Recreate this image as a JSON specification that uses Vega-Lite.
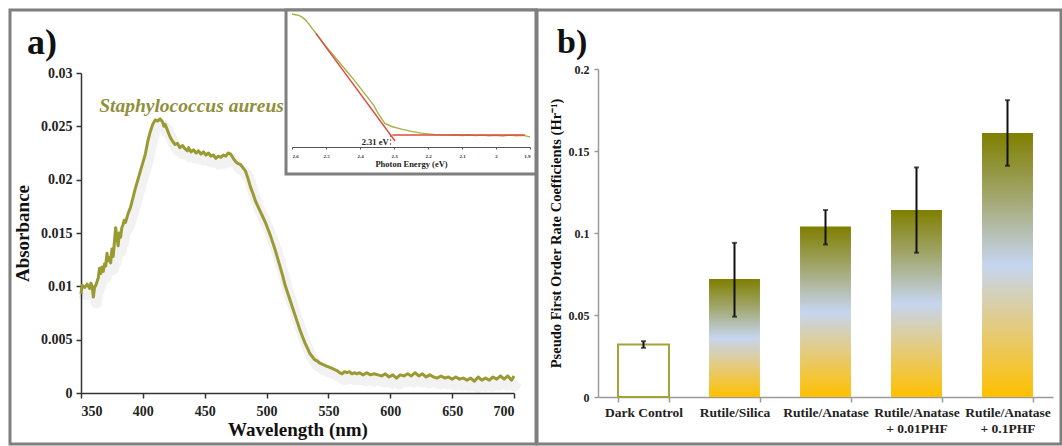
{
  "$schema": "https://vega.github.io/schema/vega-lite/v6.json",
  "background": "white",
  "padding": {"left": 8, "top": 8, "right": 0, "bottom": 0},
  "spacing": -3,
  "align": "none",
  "config": {
    "font": "Liberation Serif",
    "view": {"stroke": null},
    "axis": {"grid": false}
  },
  "datasets": {
    "spec": [
      {"wl":350,"a":0.0093},{"wl":351,"a":0.0101},{"wl":353,"a":0.0099},{"wl":355,"a":0.0102},{"wl":357,"a":0.0098},{"wl":358,"a":0.0103},{"wl":359,"a":0.0100},{"wl":360,"a":0.0090},{"wl":361,"a":0.0099},{"wl":362,"a":0.0101},{"wl":364,"a":0.0108},{"wl":365,"a":0.0117},{"wl":366,"a":0.0112},{"wl":367,"a":0.0118},{"wl":368,"a":0.0114},{"wl":369,"a":0.0121},{"wl":370,"a":0.0119},{"wl":371,"a":0.0131},{"wl":372,"a":0.0124},{"wl":373,"a":0.0127},{"wl":374,"a":0.0122},{"wl":375,"a":0.0135},{"wl":376,"a":0.0128},{"wl":377,"a":0.0141},{"wl":378,"a":0.0155},{"wl":379,"a":0.0147},{"wl":380,"a":0.0138},{"wl":381,"a":0.0150},{"wl":382,"a":0.0146},{"wl":383,"a":0.0155},{"wl":384,"a":0.0158},{"wl":385,"a":0.0162},{"wl":386,"a":0.0160},{"wl":388,"a":0.0168},{"wl":390,"a":0.0174},{"wl":392,"a":0.0183},{"wl":394,"a":0.0192},{"wl":396,"a":0.0200},{"wl":398,"a":0.0208},{"wl":400,"a":0.0216},{"wl":402,"a":0.0224},{"wl":404,"a":0.0236},{"wl":406,"a":0.0245},{"wl":408,"a":0.0252},{"wl":410,"a":0.0256},{"wl":412,"a":0.0255},{"wl":414,"a":0.0257},{"wl":416,"a":0.0254},{"wl":417,"a":0.0250},{"wl":418,"a":0.0252},{"wl":420,"a":0.0246},{"wl":422,"a":0.0240},{"wl":424,"a":0.0236},{"wl":426,"a":0.0233},{"wl":428,"a":0.0234},{"wl":430,"a":0.0230},{"wl":432,"a":0.0232},{"wl":434,"a":0.0229},{"wl":436,"a":0.0227},{"wl":437,"a":0.0230},{"wl":439,"a":0.0226},{"wl":441,"a":0.0228},{"wl":443,"a":0.0225},{"wl":445,"a":0.0227},{"wl":447,"a":0.0224},{"wl":449,"a":0.0226},{"wl":451,"a":0.0223},{"wl":453,"a":0.0225},{"wl":455,"a":0.0222},{"wl":457,"a":0.0223},{"wl":459,"a":0.0220},{"wl":461,"a":0.0222},{"wl":463,"a":0.0221},{"wl":465,"a":0.0223},{"wl":467,"a":0.0222},{"wl":469,"a":0.0225},{"wl":471,"a":0.0224},{"wl":473,"a":0.0220},{"wl":475,"a":0.0217},{"wl":477,"a":0.0215},{"wl":479,"a":0.0214},{"wl":481,"a":0.0211},{"wl":483,"a":0.0208},{"wl":485,"a":0.0201},{"wl":487,"a":0.0193},{"wl":489,"a":0.0187},{"wl":491,"a":0.0180},{"wl":493,"a":0.0175},{"wl":495,"a":0.0170},{"wl":497,"a":0.0165},{"wl":499,"a":0.0160},{"wl":501,"a":0.0154},{"wl":503,"a":0.0148},{"wl":505,"a":0.0141},{"wl":507,"a":0.0134},{"wl":509,"a":0.0126},{"wl":511,"a":0.0118},{"wl":513,"a":0.0110},{"wl":515,"a":0.0101},{"wl":517,"a":0.0094},{"wl":519,"a":0.0087},{"wl":521,"a":0.0080},{"wl":523,"a":0.0073},{"wl":525,"a":0.0066},{"wl":527,"a":0.0059},{"wl":529,"a":0.0053},{"wl":531,"a":0.0047},{"wl":533,"a":0.0042},{"wl":535,"a":0.0037},{"wl":537,"a":0.0034},{"wl":539,"a":0.0031},{"wl":541,"a":0.0030},{"wl":543,"a":0.0028},{"wl":545,"a":0.0027},{"wl":547,"a":0.0026},{"wl":549,"a":0.0025},{"wl":551,"a":0.0024},{"wl":553,"a":0.0023},{"wl":555,"a":0.0022},{"wl":557,"a":0.0021},{"wl":559,"a":0.0019},{"wl":561,"a":0.0018},{"wl":563,"a":0.0020},{"wl":565,"a":0.0019},{"wl":567,"a":0.0020},{"wl":569,"a":0.0018},{"wl":571,"a":0.0019},{"wl":573,"a":0.0018},{"wl":575,"a":0.0019},{"wl":578,"a":0.0017},{"wl":581,"a":0.0019},{"wl":584,"a":0.0017},{"wl":587,"a":0.0018},{"wl":590,"a":0.0017},{"wl":593,"a":0.0016},{"wl":596,"a":0.0018},{"wl":599,"a":0.0015},{"wl":602,"a":0.0017},{"wl":605,"a":0.0014},{"wl":608,"a":0.0017},{"wl":611,"a":0.0016},{"wl":614,"a":0.0018},{"wl":617,"a":0.0016},{"wl":620,"a":0.0019},{"wl":623,"a":0.0016},{"wl":626,"a":0.0018},{"wl":629,"a":0.0015},{"wl":632,"a":0.0017},{"wl":635,"a":0.0015},{"wl":638,"a":0.0014},{"wl":641,"a":0.0016},{"wl":644,"a":0.0014},{"wl":647,"a":0.0015},{"wl":650,"a":0.0013},{"wl":653,"a":0.0015},{"wl":656,"a":0.0013},{"wl":659,"a":0.0014},{"wl":662,"a":0.0012},{"wl":665,"a":0.0014},{"wl":668,"a":0.0011},{"wl":671,"a":0.0015},{"wl":674,"a":0.0012},{"wl":677,"a":0.0014},{"wl":680,"a":0.0012},{"wl":683,"a":0.0015},{"wl":686,"a":0.0013},{"wl":689,"a":0.0016},{"wl":692,"a":0.0013},{"wl":695,"a":0.0016},{"wl":698,"a":0.0012},{"wl":700,"a":0.0016}
    ],
    "gap": [
      {"ev":2.6,"a":0.985},{"ev":2.59,"a":0.98},{"ev":2.58,"a":0.975},{"ev":2.57,"a":0.962},{"ev":2.56,"a":0.94},{"ev":2.55,"a":0.91},{"ev":2.54,"a":0.875},{"ev":2.53,"a":0.845},{"ev":2.5,"a":0.745},{"ev":2.47,"a":0.655},{"ev":2.45,"a":0.595},{"ev":2.42,"a":0.505},{"ev":2.4,"a":0.44},{"ev":2.38,"a":0.375},{"ev":2.36,"a":0.31},{"ev":2.347,"a":0.25},{"ev":2.327,"a":0.175},{"ev":2.307,"a":0.152},{"ev":2.278,"a":0.132},{"ev":2.249,"a":0.116},{"ev":2.22,"a":0.103},{"ev":2.2,"a":0.097},{"ev":2.18,"a":0.092},{"ev":2.16,"a":0.090},{"ev":2.14,"a":0.088},{"ev":2.12,"a":0.091},{"ev":2.1,"a":0.085},{"ev":2.08,"a":0.089},{"ev":2.06,"a":0.084},{"ev":2.04,"a":0.088},{"ev":2.02,"a":0.083},{"ev":2.0,"a":0.087},{"ev":1.98,"a":0.082},{"ev":1.96,"a":0.088},{"ev":1.94,"a":0.083},{"ev":1.92,"a":0.086},{"ev":1.9,"a":0.075}
    ],
    "fit": [
      {"ev":2.53,"a":0.8416,"seg":"tangent"},{"ev":2.297,"a":0.0446,"seg":"tangent"},
      {"ev":2.305,"a":0.089,"seg":"base"},{"ev":1.915,"a":0.089,"seg":"base"}
    ],
    "bars": [
      {"cond":"Dark Control","v":0.032,"lo":0.030,"hi":0.034},
      {"cond":"Rutile/Silica","v":0.072,"lo":0.049,"hi":0.094},
      {"cond":"Rutile/Anatase","v":0.104,"lo":0.093,"hi":0.114},
      {"cond":"Rutile/Anatase|+ 0.01PHF","v":0.114,"lo":0.088,"hi":0.140},
      {"cond":"Rutile/Anatase|+ 0.1PHF","v":0.161,"lo":0.141,"hi":0.181}
    ]
  },
  "hconcat": [
    {
      "width": 433,
      "height": 320,
      "resolve": {"scale": {"x": "independent", "y": "independent"}, "axis": {"x": "independent", "y": "independent"}},
      "layer": [
        {
          "layer": [
            {
              "data": {"values": [{}]},
              "mark": {"type": "rect", "filled": false, "stroke": "#7f7f7f", "strokeWidth": 3},
              "encoding": {
                "x": {"datum": 292.6, "type": "quantitative", "scale": {"domain": [350, 700], "nice": false, "zero": false}},
                "x2": {"datum": 717.8},
                "y": {"datum": 0.035906, "type": "quantitative", "scale": {"domain": [0, 0.03], "nice": false}},
                "y2": {"datum": -0.004781}
              }
            },
            {
              "data": {"name": "spec"},
              "mark": {"type": "line", "color": "#000000", "opacity": 0.05, "strokeWidth": 11, "xOffset": 3, "yOffset": 6, "strokeJoin": "round"},
              "encoding": {
                "x": {"field": "wl", "type": "quantitative", "scale": {"domain": [350, 700], "nice": false, "zero": false}},
                "y": {"field": "a", "type": "quantitative", "scale": {"domain": [0, 0.03], "nice": false}}
              }
            },
            {
              "data": {"name": "spec"},
              "mark": {"type": "line", "color": "#9a9a32", "strokeWidth": 3, "strokeJoin": "round"},
              "encoding": {
                "x": {"field": "wl", "type": "quantitative", "scale": {"domain": [350, 700], "nice": false, "zero": false},
                  "axis": {"orient": "bottom", "title": "Wavelength (nm)", "values": [350,400,450,500,550,600,650,700], "format": "d",
                    "domainColor": "#333", "domainWidth": 1.5, "tickColor": "#333", "tickWidth": 1.5, "tickSize": 5,
                    "labelFontSize": 14, "labelFontWeight": "bold", "labelColor": "#222", "labelPadding": 6,
                    "titleFontSize": 19, "titleFontWeight": "bold", "titleColor": "#111", "titlePadding": 2}},
                "y": {"field": "a", "type": "quantitative", "scale": {"domain": [0, 0.03], "nice": false},
                  "axis": {"orient": "left", "title": "Absorbance", "values": [0,0.005,0.01,0.015,0.02,0.025,0.03], "format": "~g",
                    "domainColor": "#333", "domainWidth": 1.5, "tickColor": "#333", "tickWidth": 1.5, "tickSize": 5,
                    "labelFontSize": 14, "labelFontWeight": "bold", "labelColor": "#222", "labelPadding": 4,
                    "titleFontSize": 19, "titleFontWeight": "bold", "titleColor": "#111", "titlePadding": 8}}
              }
            },
            {
              "data": {"values": [{}]},
              "mark": {"type": "text", "text": "Staphylococcus aureus", "font": "Liberation Serif", "fontSize": 19.5, "fontWeight": "bold", "fontStyle": "italic", "color": "#8f8f3c", "align": "left", "baseline": "middle"},
              "encoding": {
                "x": {"datum": 364.7, "type": "quantitative", "scale": {"domain": [350, 700], "nice": false, "zero": false}},
                "y": {"datum": 0.0269, "type": "quantitative", "scale": {"domain": [0, 0.03], "nice": false}}
              }
            },
            {
              "data": {"values": [{}]},
              "mark": {"type": "text", "text": "a)", "fontSize": 36, "fontWeight": "bold", "color": "#111", "align": "left", "baseline": "middle"},
              "encoding": {
                "x": {"datum": 306.35, "type": "quantitative", "scale": {"domain": [350, 700], "nice": false, "zero": false}},
                "y": {"datum": 0.0328, "type": "quantitative", "scale": {"domain": [0, 0.03], "nice": false}}
              }
            }
          ]
        },
        {
          "layer": [
            {
              "data": {"values": [{}]},
              "mark": {"type": "rect", "fill": "white", "stroke": "#7f7f7f", "strokeWidth": 3},
              "encoding": {
                "x": {"datum": 2.6176, "type": "quantitative", "scale": {"domain": [1.9, 2.6], "range": [449, 211], "nice": false, "zero": false},
                  "axis": {"orient": "bottom", "offset": -246, "zindex": 2, "title": "Photon Energy (eV)", "values": [2.6,2.5,2.4,2.3,2.2,2.1,2.0,1.9], "format": "~g",
                    "domainColor": "#555", "tickColor": "#555", "tickSize": 2, "labelFontSize": 5, "labelFontWeight": "bold", "labelPadding": 4, "labelColor": "#333",
                    "titleFontSize": 8.5, "titleFontWeight": "bold", "titlePadding": 1, "titleColor": "#222"}},
                "x2": {"datum": 1.8824},
                "y": {"datum": 1.0148, "type": "quantitative", "scale": {"domain": [0, 1], "range": [74, -61], "nice": false}, "axis": null},
                "y2": {"datum": -0.2}
              }
            },
            {
              "data": {"name": "gap"},
              "mark": {"type": "line", "color": "#a8b046", "strokeWidth": 1.4},
              "encoding": {
                "x": {"field": "ev", "type": "quantitative", "scale": {"domain": [1.9, 2.6], "range": [449, 211], "nice": false, "zero": false}},
                "y": {"field": "a", "type": "quantitative", "scale": {"domain": [0, 1], "range": [74, -61], "nice": false}}
              }
            },
            {
              "data": {"name": "fit"},
              "mark": {"type": "line", "color": "#df4a3a", "strokeWidth": 1.4},
              "encoding": {
                "x": {"field": "ev", "type": "quantitative", "scale": {"domain": [1.9, 2.6], "range": [449, 211], "nice": false, "zero": false}},
                "y": {"field": "a", "type": "quantitative", "scale": {"domain": [0, 1], "range": [74, -61], "nice": false}},
                "detail": {"field": "seg"}
              }
            },
            {
              "data": {"values": [{}]},
              "mark": {"type": "rule", "color": "#df4a3a", "strokeWidth": 1, "strokeDash": [2, 2]},
              "encoding": {
                "x": {"datum": 2.31, "type": "quantitative", "scale": {"domain": [1.9, 2.6], "range": [449, 211], "nice": false, "zero": false}},
                "y": {"datum": 0.089, "type": "quantitative", "scale": {"domain": [0, 1], "range": [74, -61], "nice": false}},
                "y2": {"datum": 0}
              }
            },
            {
              "data": {"values": [{}]},
              "mark": {"type": "text", "text": "2.31 eV", "fontSize": 8.5, "fontWeight": "bold", "color": "#222", "align": "right", "baseline": "middle"},
              "encoding": {
                "x": {"datum": 2.316, "type": "quantitative", "scale": {"domain": [1.9, 2.6], "range": [449, 211], "nice": false, "zero": false}},
                "y": {"datum": 0.04, "type": "quantitative", "scale": {"domain": [0, 1], "range": [74, -61], "nice": false}}
              }
            }
          ]
        }
      ]
    },
    {
      "width": 455,
      "height": 324,
      "resolve": {"scale": {"x": "independent"}, "axis": {"x": "independent"}},
      "layer": [
        {
          "data": {"name": "bars"},
          "layer": [
            {
              "transform": [{"filter": "datum.cond !== 'Dark Control'"}],
              "mark": {"type": "bar", "fill": {"gradient": "linear", "x1": 0, "y1": 0, "x2": 0, "y2": 1,
                "stops": [
                  {"offset": 0, "color": "#7f7f00"},
                  {"offset": 0.25, "color": "#a3a871"},
                  {"offset": 0.5, "color": "#c6d5ef"},
                  {"offset": 0.72, "color": "#e2cc86"},
                  {"offset": 1, "color": "#ffc000"}
                ]}},
              "encoding": {
                "x": {"field": "cond", "type": "nominal", "sort": null, "scale": {"domain": ["Dark Control","Rutile/Silica","Rutile/Anatase","Rutile/Anatase|+ 0.01PHF","Rutile/Anatase|+ 0.1PHF"], "paddingInner": 0.44, "paddingOuter": 0.22}},
                "y": {"field": "v", "type": "quantitative", "scale": {"domain": [0, 0.2], "range": [324, -4], "nice": false}}
              }
            },
            {
              "transform": [{"filter": "datum.cond === 'Dark Control'"}],
              "mark": {"type": "bar", "fill": "white", "stroke": "#a3a33a", "strokeWidth": 2},
              "encoding": {
                "x": {"field": "cond", "type": "nominal", "sort": null, "scale": {"domain": ["Dark Control","Rutile/Silica","Rutile/Anatase","Rutile/Anatase|+ 0.01PHF","Rutile/Anatase|+ 0.1PHF"], "paddingInner": 0.44, "paddingOuter": 0.22}},
                "y": {"field": "v", "type": "quantitative", "scale": {"domain": [0, 0.2], "range": [324, -4], "nice": false}}
              }
            },
            {
              "mark": {"type": "errorbar", "color": "#111", "thickness": 2, "ticks": {"size": 5}},
              "encoding": {
                "x": {"field": "cond", "type": "nominal", "sort": null, "scale": {"domain": ["Dark Control","Rutile/Silica","Rutile/Anatase","Rutile/Anatase|+ 0.01PHF","Rutile/Anatase|+ 0.1PHF"], "paddingInner": 0.44, "paddingOuter": 0.22},
                  "axis": {"orient": "bottom", "title": null, "labelAngle": 0, "labelAlign": "center", "bandPosition": 0.5, "labelExpr": "split(datum.label, '|')", "tickBand": "extent",
                    "domainColor": "#9a9a9a", "domainWidth": 1.5, "tickColor": "#9a9a9a", "tickWidth": 1.5, "tickSize": 5,
                    "labelFontSize": 13.5, "labelFontWeight": "bold", "labelColor": "#222", "labelPadding": 3, "labelLineHeight": 16, "labelBaseline": "top"}},
                "y": {"field": "lo", "type": "quantitative", "scale": {"domain": [0, 0.2], "range": [324, -4], "nice": false},
                  "axis": {"orient": "left", "title": "Pseudo First Order Rate Coefficients (Hr⁻¹)", "values": [0,0.05,0.1,0.15,0.2], "format": "~g",
                    "domainColor": "#9a9a9a", "domainWidth": 1.5, "tickColor": "#9a9a9a", "tickWidth": 1.5, "tickSize": 4,
                    "labelFontSize": 12, "labelFontWeight": "bold", "labelColor": "#222", "labelPadding": 5,
                    "titleFontSize": 14.5, "titleFontWeight": "bold", "titleColor": "#111", "titlePadding": 5}},
                "y2": {"field": "hi"}
              }
            }
          ]
        },
        {
          "data": {"values": [{}]},
          "layer": [
            {
              "mark": {"type": "rect", "filled": false, "stroke": "#7f7f7f", "strokeWidth": 3},
              "encoding": {
                "x": {"datum": -0.134, "type": "quantitative", "scale": {"domain": [0, 1], "nice": false, "zero": false}, "axis": null},
                "x2": {"datum": 1.0176},
                "y": {"datum": 0.23598, "type": "quantitative", "scale": {"domain": [0, 0.2], "range": [324, -4], "nice": false}},
                "y2": {"datum": -0.02866}
              }
            },
            {
              "mark": {"type": "text", "text": "b)", "fontSize": 34, "fontWeight": "bold", "color": "#111", "align": "left", "baseline": "middle"},
              "encoding": {
                "x": {"datum": -0.0901, "type": "quantitative", "scale": {"domain": [0, 1], "nice": false, "zero": false}, "axis": null},
                "y": {"datum": 0.2158, "type": "quantitative", "scale": {"domain": [0, 0.2], "range": [324, -4], "nice": false}}
              }
            }
          ]
        }
      ]
    }
  ]
}
